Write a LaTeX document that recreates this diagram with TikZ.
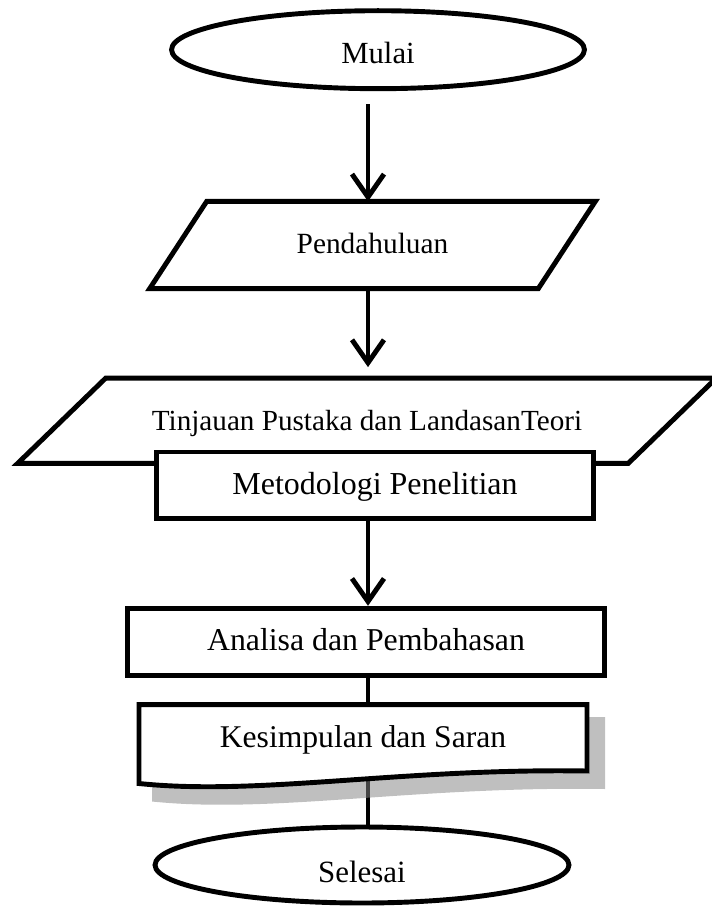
\documentclass[tikz,border=0pt]{standalone}
\usepackage{fontspec}
\setmainfont{Liberation Serif}
\usetikzlibrary{shapes.geometric,arrows.meta,backgrounds}

\tikzset{
  garis/.style={line width=2.8pt},
  panah/.style={garis, -{Straight Barb[length=0.46cm,width=0.64cm]}},
  terminal/.style={ellipse, draw, garis, inner sep=0pt, text depth=0pt, minimum width=8.26cm, minimum height=1.56cm},
  kotak/.style={rectangle, inner sep=0pt, text depth=0pt},
  proses/.style={kotak, draw, garis, fill=white}
}

\begin{document}
\begin{tikzpicture}[x=0.02cm, y=-0.02cm]
    \useasboundingbox ( 0, 0 ) rectangle ( 711, 906 );
    \coordinate (poros) at ( 368, 0 );

    % awal dan akhir
    \node [terminal, text height=15.5pt, font=\fontsize{17.5}{20}\selectfont] (mulai) at ( 378, 49.7 ) {Mulai};
    \node [terminal, text height=20.1pt, minimum width=8.28cm, minimum height=1.52cm, font=\fontsize{17.6}{20}\selectfont] (selesai) at ( 362, 865 ) {Selesai};

    % masukan (jajar genjang)
    \node [kotak, text height=9.4pt, minimum width=8.9cm, minimum height=1.73cm, font=\fontsize{16.7}{20}\selectfont] (pendahuluan) at ( 372.5, 245 ) {Pendahuluan};
    \draw [garis] ([xshift=1.14cm]pendahuluan.north west) -- (pendahuluan.north east) -- ([xshift=-1.14cm]pendahuluan.south east) -- (pendahuluan.south west) -- cycle;

    \node [kotak, text height=10.6pt, minimum width=13.96cm, minimum height=1.69cm, font=\fontsize{16.6}{20}\selectfont] (tinjauan) at ( 367, 420.7 ) {Tinjauan Pustaka dan LandasanTeori};
    \draw [garis] ([xshift=1.76cm]tinjauan.north west) -- (tinjauan.north east) -- ([xshift=-1.76cm]tinjauan.south east) -- (tinjauan.south west) -- cycle;

    % proses
    \node [proses, text height=10.4pt, minimum width=8.73cm, minimum height=1.33cm, font=\fontsize{18.2}{20}\selectfont] (metodologi) at ( 375, 485.2 ) {Metodologi Penelitian};
    \node [proses, text height=9.1pt, minimum width=9.55cm, minimum height=1.35cm, font=\fontsize{18.1}{20}\selectfont] (analisa) at ( 366, 642 ) {Analisa dan Pembahasan};
    \node [kotak, text height=9.7pt, minimum width=8.96cm, minimum height=1.372cm, font=\fontsize{18}{20}\selectfont] (kesimpulan) at ( 363, 739 ) {Kesimpulan dan Saran};

    % dokumen dengan bayangan
    \begin{scope}[on background layer]
        \draw [garis] (kesimpulan.south -| poros) -- (selesai.north -| poros);
        \fill [black!48, opacity=0.525] ( 152, 717 ) -- ( 605, 717 ) -- ( 605, 789 ) .. controls ( 413, 786 ) and ( 273, 814 ) .. ( 152, 801.5 ) -- cycle;
        \draw [garis, fill=white] ( 139, 704.7 ) -- ( 587, 704.7 ) -- ( 587, 771 ) .. controls ( 400, 768 ) and ( 260, 796 ) .. ( 139, 783.5 ) -- cycle;
    \end{scope}

    % alur
    \draw [panah, shorten <=0.26cm] (mulai.south -| poros) -- (pendahuluan.north -| poros);
    \draw [panah, shorten >=0.22cm] (pendahuluan.south -| poros) -- (tinjauan.north -| poros);
    \draw [panah] (metodologi.south -| poros) -- (analisa.north -| poros);
    \draw [garis] (analisa.south -| poros) -- (kesimpulan.north -| poros);
\end{tikzpicture}
\end{document}
